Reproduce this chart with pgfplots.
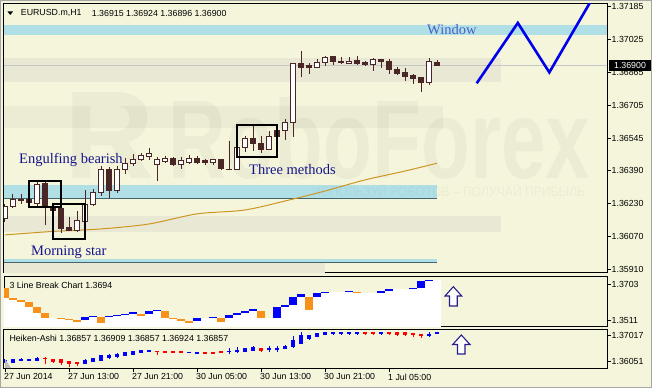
\documentclass[border=0pt]{standalone}
\usepackage{pgfplots}
\pgfplotsset{compat=1.18}
\usepackage{fontspec}
\setmainfont{Liberation Sans}
\newfontfamily\seriffont{Liberation Serif}
\definecolor{bg}{RGB}{245,245,220}
\definecolor{bandblue}{RGB}{176,224,230}
\definecolor{beige}{RGB}{233,232,213}
\definecolor{darkline}{RGB}{70,100,110}
\definecolor{cdark}{RGB}{75,38,38}
\definecolor{macol}{RGB}{205,150,35}
\definecolor{zig}{RGB}{0,0,235}
\definecolor{anno}{RGB}{20,20,140}
\definecolor{wblue}{RGB}{70,95,200}
\definecolor{hblue}{RGB}{0,0,255}
\definecolor{hred}{RGB}{255,0,0}
\definecolor{lorange}{RGB}{247,145,25}
\newcommand{\lab}{\fontsize{8.8}{10}\selectfont}
\pgfplotsset{
  panel/.style={scale only axis, width=603pt, xmin=-0.125, xmax=75.25,
    axis line style={black, line width=1pt}, ytick pos=right, tick align=outside,
    major tick length=3.5pt, tick style={black, line width=0.8pt},
    yticklabel style={font=\lab, anchor=west, inner sep=0pt, xshift=1pt}, clip=true},
}
% generic candle: x, O, H, L, C, half width, body colour, edge colour, wick colour
\newcommand{\candle}[9]{%
  \pgfmathsetmacro\xl{#1-#6}\pgfmathsetmacro\xr{#1+#6}%
  \addplot[#9, line width=1pt] coordinates {(#1,#4) (#1,#3)};
  \addplot[draw=#8, fill=#7, line width=0.9pt] coordinates {(\xl,#2) (\xr,#2) (\xr,#5) (\xl,#5)} -- cycle;}
\newcommand{\cu}[5]{\candle{#1}{#2}{#3}{#4}{#5}{0.3}{white}{cdark}{cdark}}
\newcommand{\cd}[5]{\candle{#1}{#2}{#3}{#4}{#5}{0.3}{cdark}{cdark}{cdark}}
\newcommand{\hu}[5]{\candle{#1}{#2}{#3}{#4}{#5}{0.17}{hblue}{hblue}{hblue}}
\newcommand{\hd}[5]{\candle{#1}{#2}{#3}{#4}{#5}{0.17}{hred}{hred}{hred}}
\newcommand{\wht}[2]{%
  \pgfmathsetmacro\xl{#1-0.52}\pgfmathsetmacro\xr{#1+0.52}%
  \addplot[draw=none, fill=white] coordinates {(\xl,1.3470) (\xr,1.3470) (\xr,#2) (\xl,#2)} -- cycle;}
\newcommand{\brk}[4]{\wht{#1}{#2}%
  \pgfmathsetmacro\xl{#1-0.5}\pgfmathsetmacro\xr{#1+0.5}%
  \addplot[draw=none, fill=#4] coordinates {(\xl,#2) (\xr,#2) (\xr,#3) (\xl,#3)} -- cycle;}
\begin{document}
\begin{tikzpicture}
\useasboundingbox (0,0) rectangle (652pt,388pt);
\fill[bg] (0,0) rectangle (652pt,388pt);
\draw[gray!70, line width=1pt] (0.5pt,0.5pt) rectangle (651.5pt,387.5pt);

% ---------------- main panel
\begin{axis}[panel, at={(4pt,115pt)}, anchor=south west, height=269pt,
  ymin=1.35892, ymax=1.37198, xtick=\empty,
  ytick={1.35910,1.36070,1.36230,1.36390,1.36545,1.36705,1.36865,1.37025,1.37185},
  yticklabels={1.35910,1.36070,1.36230,1.36390,1.36545,1.36705,1.36865,1.37025,1.37185}]
\fill[bandblue] (axis cs:-0.125,1.37048) rectangle (axis cs:75.25,1.37096);
\fill[beige] (axis cs:-0.125,1.36817) rectangle (axis cs:62,1.36936);
\fill[bandblue] (axis cs:-0.125,1.36256) rectangle (axis cs:54,1.36319);
\draw[darkline, line width=1pt] (axis cs:-0.125,1.36256) -- (axis cs:54,1.36256);
\fill[beige] (axis cs:-0.125,1.36091) rectangle (axis cs:62,1.36171);
\fill[bandblue] (axis cs:-0.125,1.35945) rectangle (axis cs:54,1.35958);
\draw[darkline, line width=0.8pt] (axis cs:-0.125,1.35945) -- (axis cs:54,1.35945);
\fill[beige] (axis cs:-0.125,1.35880) rectangle (axis cs:40,1.35941);
% watermark
\fill[black, opacity=0.035] (axis cs:-0.125,1.36596) rectangle (axis cs:54.75,1.36703);
\node[anchor=base west, text=black, text opacity=0.035, inner sep=0pt,
  font=\bfseries\fontsize{125}{125}\selectfont] at (axis cs:7.375,1.36353) {R};
\node[anchor=base west, text=black, text opacity=0.035, inner sep=0pt, xscale=0.714,
  font=\bfseries\fontsize{112}{112}\selectfont] at (axis cs:20.375,1.36353) {RoboForex};
\node[anchor=base west, text=black, text opacity=0.035, inner sep=0pt, xscale=0.9,
  font=\fontsize{13.5}{14}\selectfont] at (axis cs:38.375,1.36261) {ИСПОЛЬЗУЙ РОБОТОВ – ПОЛУЧАЙ ПРИБЫЛЬ};
% current price line
\addplot[color=gray!45, line width=1pt] coordinates {(-0.125,1.36900) (75.25,1.36900)};
% moving average
\addplot[color=macol, line width=1pt, smooth] coordinates {
 (0,1.36077) (6,1.36094) (12,1.36106) (18,1.36130) (24,1.36179) (30,1.36198)
 (36,1.36251) (40,1.36290) (45,1.36344) (50,1.36387) (54,1.36425)};
% zigzag "window"
\addplot[color=zig, line width=2.6pt, line join=miter] coordinates {
 (58.96,1.36813) (64.1,1.37106) (68.04,1.36866) (73.2,1.37210)};
% candles
\cu{0}{1.36159}{1.36227}{1.36140}{1.36214}
\cu{1}{1.36213}{1.36276}{1.36207}{1.36251}
\cd{2}{1.36251}{1.36276}{1.36227}{1.36243}
\cd{3}{1.36247}{1.36256}{1.36227}{1.36233}
\cu{4}{1.36232}{1.36334}{1.36217}{1.36324}
\cd{5}{1.36329}{1.36334}{1.36125}{1.36213}
\cd{6}{1.36213}{1.36217}{1.36193}{1.36198}
\cd{7}{1.36203}{1.36207}{1.36086}{1.36106}
\cd{8}{1.36111}{1.36164}{1.36096}{1.36098}
\cu{9}{1.36101}{1.36193}{1.36091}{1.36145}
\cu{10}{1.36141}{1.36295}{1.36140}{1.36227}
\cu{11}{1.36227}{1.36300}{1.36217}{1.36282}
\cu{12}{1.36285}{1.36412}{1.36266}{1.36397}
\cd{13}{1.36397}{1.36407}{1.36256}{1.36295}
\cu{14}{1.36292}{1.36412}{1.36281}{1.36397}
\cu{15}{1.36397}{1.36450}{1.36373}{1.36426}
\cu{16}{1.36423}{1.36470}{1.36412}{1.36441}
\cu{17}{1.36441}{1.36474}{1.36436}{1.36465}
\cu{18}{1.36460}{1.36499}{1.36441}{1.36474}
\cu{19}{1.36421}{1.36455}{1.36340}{1.36441}
\cu{20}{1.36432}{1.36460}{1.36426}{1.36446}
\cd{21}{1.36446}{1.36455}{1.36413}{1.36418}
\cu{22}{1.36421}{1.36455}{1.36397}{1.36436}
\cu{23}{1.36431}{1.36465}{1.36421}{1.36450}
\cd{24}{1.36446}{1.36461}{1.36421}{1.36431}
\cd{25}{1.36436}{1.36447}{1.36416}{1.36428}
\cu{26}{1.36431}{1.36447}{1.36418}{1.36444}
\cd{27}{1.36444}{1.36447}{1.36392}{1.36400}
\cu{28}{1.36394}{1.36533}{1.36392}{1.36396}
\cu{29}{1.36395}{1.36504}{1.36392}{1.36500}
\cu{30}{1.36502}{1.36557}{1.36481}{1.36546}
\cd{31}{1.36546}{1.36607}{1.36486}{1.36522}
\cd{32}{1.36523}{1.36559}{1.36476}{1.36494}
\cu{33}{1.36494}{1.36582}{1.36492}{1.36554}
\cd{34}{1.36583}{1.36596}{1.36548}{1.36554}
\cu{35}{1.36582}{1.36640}{1.36538}{1.36624}
\cu{36}{1.36624}{1.36912}{1.36554}{1.36910}
\cd{37}{1.36907}{1.36970}{1.36842}{1.36891}
\cd{38}{1.36898}{1.36913}{1.36857}{1.36892}
\cu{39}{1.36891}{1.36931}{1.36886}{1.36915}
\cu{40}{1.36915}{1.36947}{1.36899}{1.36939}
\cd{41}{1.36944}{1.36947}{1.36900}{1.36918}
\cd{42}{1.36920}{1.36942}{1.36907}{1.36913}
\cu{43}{1.36910}{1.36939}{1.36910}{1.36918}
\cd{44}{1.36925}{1.36947}{1.36902}{1.36910}
\cd{45}{1.36913}{1.36923}{1.36897}{1.36905}
\cu{46}{1.36905}{1.36934}{1.36874}{1.36930}
\cd{47}{1.36930}{1.36930}{1.36886}{1.36921}
\cd{48}{1.36921}{1.36930}{1.36857}{1.36881}
\cd{49}{1.36882}{1.36891}{1.36852}{1.36860}
\cd{50}{1.36865}{1.36887}{1.36826}{1.36847}
\cd{51}{1.36850}{1.36857}{1.36811}{1.36835}
\cd{52}{1.36840}{1.36845}{1.36772}{1.36816}
\cu{53}{1.36816}{1.36937}{1.36805}{1.36920}
\cd{54}{1.36915}{1.36924}{1.36896}{1.36900}
% pattern boxes
\draw[black, line width=2.2pt] (axis cs:3.04,1.36214) rectangle (axis cs:7.0,1.36339);
\draw[black, line width=2.2pt] (axis cs:5.96,1.36056) rectangle (axis cs:10.04,1.36227);
\draw[black, line width=2.2pt] (axis cs:28.96,1.36454) rectangle (axis cs:34.04,1.36611);
\end{axis}

% ---------------- 3 line break panel
\begin{axis}[panel, at={(4pt,62pt)}, anchor=south west, height=49pt,
  ymin=1.34790, ymax=1.37403, xtick=\empty,
  ytick={1.3511,1.3703}, yticklabels={1.3511,1.3703}]
\brk{0}{1.36299}{1.36801}{lorange}
\brk{1}{1.36193}{1.36299}{lorange}
\brk{2}{1.36086}{1.36193}{lorange}
\brk{3}{1.35803}{1.36086}{lorange}
\brk{4}{1.35467}{1.35803}{lorange}
\brk{5}{1.35233}{1.35467}{lorange}
\wht{6}{1.35233}
\brk{7}{1.35179}{1.35233}{lorange}
\brk{8}{1.35126}{1.35179}{lorange}
\brk{9}{1.35019}{1.35126}{lorange}
\brk{10}{1.35126}{1.35286}{blue}
\brk{11}{1.35286}{1.35339}{blue}
\brk{12}{1.34966}{1.35286}{lorange}
\brk{13}{1.35270}{1.35339}{blue}
\brk{14}{1.35323}{1.35393}{blue}
\brk{15}{1.35393}{1.35446}{blue}
\brk{16}{1.35446}{1.35553}{blue}
\brk{17}{1.35339}{1.35446}{lorange}
\brk{18}{1.35446}{1.35606}{blue}
\brk{19}{1.35606}{1.35659}{blue}
\brk{20}{1.35233}{1.35606}{lorange}
\brk{21}{1.35179}{1.35233}{lorange}
\brk{22}{1.35073}{1.35179}{lorange}
\brk{23}{1.34966}{1.35073}{lorange}
\brk{24}{1.35073}{1.35233}{blue}
\wht{25}{1.35233}
\brk{26}{1.35233}{1.35275}{blue}
\brk{27}{1.35019}{1.35233}{lorange}
\brk{28}{1.35233}{1.35393}{blue}
\brk{29}{1.35393}{1.35499}{blue}
\brk{30}{1.35499}{1.35606}{blue}
\brk{31}{1.35606}{1.35713}{blue}
\brk{32}{1.35233}{1.35606}{lorange}
\wht{33}{1.35233}
\brk{34}{1.35233}{1.35819}{blue}
\brk{35}{1.35819}{1.35926}{blue}
\brk{36}{1.35926}{1.36337}{blue}
\brk{37}{1.36337}{1.36497}{blue}
\brk{38}{1.35659}{1.36337}{lorange}
\brk{39}{1.36337}{1.36550}{blue}
\brk{40}{1.36550}{1.36603}{blue}
\wht{41}{1.36603}
\wht{42}{1.36603}
\brk{43}{1.36619}{1.36673}{blue}
\brk{44}{1.36566}{1.36619}{lorange}
\wht{45}{1.36566}
\wht{46}{1.36566}
\brk{47}{1.36566}{1.36673}{blue}
\brk{48}{1.36673}{1.36763}{blue}
\wht{49}{1.36763}
\wht{50}{1.36763}
\brk{51}{1.36763}{1.36817}{blue}
\brk{52}{1.36817}{1.37206}{blue}
\brk{53}{1.37206}{1.37259}{blue}
\wht{54}{1.37259}
\end{axis}

% ---------------- Heiken-Ashi panel
\begin{axis}[panel, at={(4pt,20pt)}, anchor=south west, height=39pt,
  ymin=1.35791, ymax=1.37240,
  ytick={1.36051,1.37017}, yticklabels={1.36051,1.37017},
  xtick pos=left, xtick={0,8,16,24,32,40,48},
  xticklabels={27 Jun 2014,27 Jun 13:00,27 Jun 21:00,30 Jun 05:00,30 Jun 13:00,30 Jun 21:00,1 Jul 05:00},
  xticklabel style={font=\lab, anchor=north west, inner sep=0pt, xshift=-1pt, yshift=-2pt}]
\hu{0}{1.36026}{1.36113}{1.35989}{1.36088}
\hu{1}{1.36014}{1.36138}{1.35989}{1.36113}
\hu{2}{1.36063}{1.36150}{1.36039}{1.36125}
\hu{3}{1.36076}{1.36113}{1.36076}{1.36113}
\hu{4}{1.36088}{1.36212}{1.36039}{1.36163}
\hd{5}{1.36150}{1.36212}{1.35927}{1.36138}
\hd{6}{1.36113}{1.36138}{1.35989}{1.36039}
\hd{7}{1.36101}{1.36125}{1.35903}{1.36002}
\hd{8}{1.36039}{1.36063}{1.35841}{1.35952}
\hd{9}{1.35989}{1.36002}{1.35865}{1.35952}
\hu{10}{1.35964}{1.36138}{1.35927}{1.36088}
\hu{11}{1.36039}{1.36175}{1.36014}{1.36150}
\hu{12}{1.36088}{1.36286}{1.36063}{1.36262}
\hu{13}{1.36187}{1.36311}{1.36138}{1.36262}
\hu{14}{1.36212}{1.36361}{1.36163}{1.36299}
\hu{15}{1.36262}{1.36385}{1.36237}{1.36361}
\hu{16}{1.36299}{1.36435}{1.36262}{1.36410}
\hu{17}{1.36373}{1.36460}{1.36361}{1.36435}
\hu{18}{1.36410}{1.36460}{1.36385}{1.36447}
\hd{19}{1.36423}{1.36423}{1.36286}{1.36398}
\hd{20}{1.36398}{1.36398}{1.36361}{1.36373}
\hd{21}{1.36398}{1.36398}{1.36348}{1.36361}
\hd{22}{1.36398}{1.36398}{1.36348}{1.36361}
\hu{23}{1.36361}{1.36398}{1.36348}{1.36385}
\hu{24}{1.36348}{1.36385}{1.36336}{1.36373}
\hd{25}{1.36373}{1.36373}{1.36336}{1.36348}
\hd{26}{1.36373}{1.36373}{1.36323}{1.36336}
\hd{27}{1.36410}{1.36410}{1.36336}{1.36361}
\hu{28}{1.36398}{1.36534}{1.36299}{1.36423}
\hu{29}{1.36423}{1.36559}{1.36336}{1.36460}
\hu{30}{1.36410}{1.36534}{1.36385}{1.36522}
\hu{31}{1.36460}{1.36608}{1.36435}{1.36571}
\hd{32}{1.36509}{1.36534}{1.36398}{1.36460}
\hu{33}{1.36497}{1.36608}{1.36398}{1.36534}
\hu{34}{1.36485}{1.36608}{1.36398}{1.36522}
\hu{35}{1.36534}{1.36658}{1.36509}{1.36608}
\hu{36}{1.36584}{1.36980}{1.36534}{1.36831}
\hu{37}{1.36707}{1.37128}{1.36683}{1.37017}
\hu{38}{1.36881}{1.37029}{1.36844}{1.37017}
\hu{39}{1.36955}{1.37079}{1.36930}{1.37067}
\hu{40}{1.37042}{1.37104}{1.37017}{1.37104}
\hu{41}{1.37067}{1.37104}{1.37029}{1.37104}
\hu{42}{1.37079}{1.37104}{1.37029}{1.37104}
\hu{43}{1.37079}{1.37104}{1.37017}{1.37104}
\hu{44}{1.37079}{1.37104}{1.37029}{1.37104}
\hd{45}{1.37104}{1.37104}{1.37017}{1.37067}
\hd{46}{1.37104}{1.37104}{1.37017}{1.37067}
\hu{47}{1.37079}{1.37104}{1.37029}{1.37104}
\hd{48}{1.37104}{1.37104}{1.37005}{1.37067}
\hd{49}{1.37104}{1.37104}{1.36980}{1.37054}
\hd{50}{1.37104}{1.37104}{1.36980}{1.37042}
\hd{51}{1.37079}{1.37079}{1.36955}{1.37042}
\hd{52}{1.37042}{1.37042}{1.36906}{1.37005}
\hu{53}{1.37017}{1.37128}{1.36955}{1.37054}
\hu{54}{1.37067}{1.37128}{1.37104}{1.37128}
\end{axis}

% ---------------- overlays
\fill[black] (609pt,317pt) rectangle (651pt,328pt);
\node[text=white, font=\lab, inner sep=0pt] at (630pt,322.5pt) {1.36900};
\fill[black] (7.5pt,376.5pt) -- (13pt,376.5pt) -- (10.25pt,373pt) -- cycle;
\node[anchor=west, font=\lab, inner sep=0pt] at (20.7pt,374.7pt) {EURUSD.m,H1};
\node[anchor=west, font=\lab, inner sep=0pt] at (91.7pt,374.7pt) {1.36915 1.36924 1.36896 1.36900};
\node[anchor=west, font=\lab, inner sep=0pt] at (9.3pt,102.3pt) {3 Line Break Chart 1.3694};
\node[anchor=west, font=\lab, inner sep=0pt] at (9.3pt,49.7pt) {Heiken-Ashi 1.36857 1.36909 1.36857 1.36924 1.36857};
\node[anchor=base west, text=anno, inner sep=0pt, font=\seriffont\fontsize{14.5}{16}\selectfont] at (19pt,224.7pt) {Engulfing bearish};
\node[anchor=base west, text=anno, inner sep=0pt, font=\seriffont\fontsize{14.5}{16}\selectfont] at (31pt,132pt) {Morning star};
\node[anchor=base west, text=anno, inner sep=0pt, font=\seriffont\fontsize{14.5}{16}\selectfont] at (249pt,213pt) {Three methods};
\node[anchor=base west, text=wblue, inner sep=0pt, font=\seriffont\fontsize{14.5}{16}\selectfont] at (427pt,353pt) {Window};
% hollow arrows
\draw[draw={rgb,255:red,40;green,30;blue,140}, fill=white, line width=1.1pt, line join=miter]
  (453.3pt,101.3pt) -- (461.7pt,92pt) -- (457.2pt,92pt) -- (457.2pt,82pt) -- (449.5pt,82pt) -- (449.5pt,92pt) -- (445pt,92pt) -- cycle;
\draw[draw={rgb,255:red,40;green,30;blue,140}, fill=white, line width=1.1pt, line join=miter]
  (461.3pt,53pt) -- (470pt,43.5pt) -- (465pt,43.5pt) -- (465pt,34pt) -- (457.5pt,34pt) -- (457.5pt,43.5pt) -- (452.7pt,43.5pt) -- cycle;
\fill[gray!50] (5pt,29pt) -- (5pt,20pt) -- (11pt,20pt) -- cycle;
\end{tikzpicture}
\end{document}
